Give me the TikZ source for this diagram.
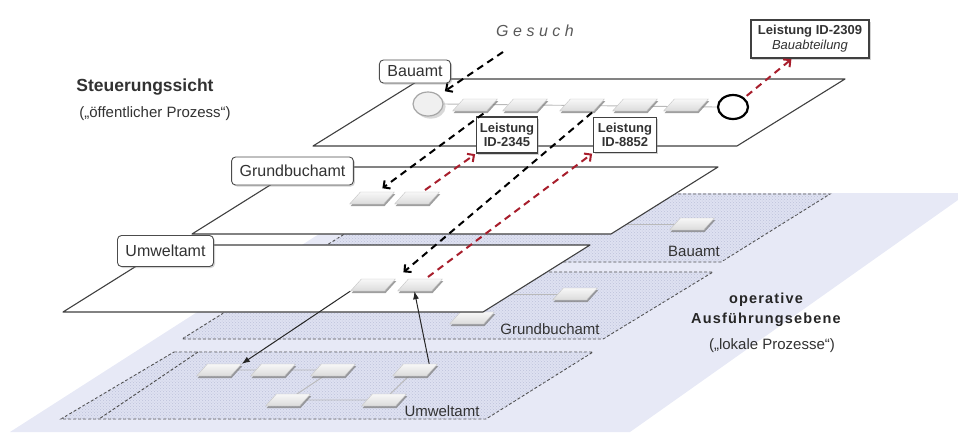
\documentclass[tikz,border=0pt]{standalone}
\usepackage{fontspec}
\setmainfont{Liberation Sans}
\newfontfamily\widefont[LetterSpace=28]{Liberation Sans}
\newfontfamily\semiwidefont[LetterSpace=8]{Liberation Sans}
\usetikzlibrary{shadows,patterns,calc,arrows.meta,shapes.geometric}
\definecolor{rred}{RGB}{168,30,44}
\definecolor{band}{RGB}{231,233,246}
\definecolor{opfill}{RGB}{222,225,241}
\definecolor{opdots}{RGB}{190,194,218}
\definecolor{txt}{RGB}{50,50,50}

\tikzset{
  plane/.style={draw=black!75, line width=1.1pt, fill=white, line join=round},
  opplane/.style={draw=black!70, line width=0.9pt, dash pattern=on 3pt off 2pt, fill=opfill,
    postaction={pattern=crosshatch dots, pattern color=opdots}},
  task/.style={draw=gray!45, thin, top color=gray!6, bottom color=gray!28, minimum width=34pt,
    minimum height=12pt, inner sep=0pt, xslant=0.9, transform shape,
    drop shadow={shadow xshift=1pt, shadow yshift=-2pt, opacity=0.75}},
  lbl/.style={draw=black!70, line width=0.9pt, rounded corners=4pt, fill=white, text=txt,
    font=\fontsize{16}{18}\selectfont, inner xsep=8pt,
    drop shadow={shadow xshift=1.5pt, shadow yshift=-1.5pt, opacity=0.35}},
  res/.style={draw=black!75, line width=1.2pt, fill=white, text=txt, align=center, inner sep=3pt,
    font=\bfseries\fontsize{13}{14}\selectfont,
    drop shadow={shadow xshift=1.5pt, shadow yshift=-1.5pt, opacity=0.35}},
  optext/.style={text=txt, font=\fontsize{15}{17}\selectfont},
  req/.style={draw=black, line width=2pt, dash pattern=on 7pt off 5pt,
    -{Straight Barb[length=5pt,width=10pt]}},
  resp/.style={req, draw=rred},
  flow/.style={draw=black!85, line width=1pt, -{Latex[length=8pt,width=6pt]}},
  seq/.style={draw=gray!55, line width=0.9pt}
}

\begin{document}
\begin{tikzpicture}[x=1pt, y=-1pt, >=stealth]
    \useasboundingbox (0,0) rectangle (958,432);
    \fill[band] (10,432) -- (383,193) -- (958,193) -- (958,200) -- (630,432) -- cycle;

    % operative Ebene
    \draw[opplane] (408,194) -- (830,194) -- (721,262) -- (300,262) -- cycle;
    \draw[opplane] (289,272) -- (713,272) -- (603,339) -- (182,339) -- cycle;
    \draw[opplane] (174,352) -- (593,352) -- (486,419) -- (61,419) -- cycle;
    \draw[black!70, line width=0.9pt, dash pattern=on 3pt off 2pt] (198,352) -- (99,419);

    \coordinate (lbin) at (600,224);
    \coordinate (lgin) at (490,294);
    \coordinate (pu1) at (219,370);
    \coordinate (pu2) at (273,370);
    \coordinate (pu3) at (333,370);
    \coordinate (pu4) at (415,370);
    \coordinate (pu5) at (288,400);
    \coordinate (pu6) at (384,400);
    \draw[seq] (lbin) -- (692,224);
    \draw[seq] (lgin) -- (575,294);
    \draw[seq] (pu1) -- (pu2) -- (pu3) -- (pu5) -- (pu6) -- (pu4);

    \node[task] (lb1) at (692,224) {};
    \node[task] (lg1) at (575,294) {};
    \node[task] (lg2) at (472,318) {};
    \node[task] (lu1) at (pu1) {};
    \node[task] (lu2) at (pu2) {};
    \node[task] (lu3) at (pu3) {};
    \node[task] (lu4) at (pu4) {};
    \node[task] (lu5) at (pu5) {};
    \node[task] (lu6) at (pu6) {};
    \node[optext] (lbau) at (694,251) {Bauamt};
    \node[optext] (lgrund) at (550,329) {Grundbuchamt};
    \node[optext] (lumwelt) at (442,411) {Umweltamt};

    % Steuerungssicht
    \draw[plane] (421,79) -- (845,79) -- (737,146) -- (313,146) -- cycle;
    \draw[plane] (299,167) -- (718,167) -- (611,234) -- (192,234) -- cycle;
    \draw[plane] (170,245) -- (590,245) -- (483,312) -- (63,312) -- cycle;

    \node[ellipse, draw=gray!70, line width=1.2pt, fill=gray!12, minimum width=30pt,
      minimum height=24pt, drop shadow={opacity=0.3}] (start) at (428,104) {};
    \node[ellipse, draw=black, line width=2.2pt, fill=white, minimum width=30pt,
      minimum height=24pt] (stop) at (733,107) {};
    \draw[seq] (start.east) -- (stop.west);
    \node[task] (b1) at (475,105) {};
    \node[task] (b2) at (525,105) {};
    \node[task] (b3) at (582,105) {};
    \node[task] (b4) at (635,105) {};
    \node[task] (b5) at (686,105) {};

    \node[task] (g1) at (372,198) {};
    \node[task] (g2) at (417,198) {};
    \node[task] (u1) at (373,285) {};
    \node[task] (u2) at (420,285) {};

    \node[lbl, minimum height=23pt] (bauamt) at (415,71.5) {Bauamt};
    \node[lbl, minimum height=28pt] (grundbuch) at (292.5,171) {Grundbuchamt};
    \node[lbl, minimum height=31pt] (umwelt) at (165.5,251) {Umweltamt};

    \node[res, minimum width=61pt, minimum height=36pt] (l2345) at (507,135) {Leistung\\ID-2345};
    \node[res, minimum width=63pt, minimum height=35pt] (l8852) at (625,135) {Leistung\\ID-8852};
    \node[res, font=\fontsize{13}{15}\selectfont, inner xsep=7pt, minimum height=38pt] (l2309) at (810,39)
      {\textbf{Leistung ID-2309}\\\textit{Bauabteilung}};

    \node[text=gray!70!black, font=\widefont\itshape\fontsize{16}{18}\selectfont] (gesuch) at (535,31) {Gesuch};
    \coordinate (anfrage) at (503,52);

    % Nachrichten
    \draw[req, shorten >=7pt] (anfrage) -- (start.north east);
    \draw[req, shorten <=4pt, shorten >=6pt] (b1.south east) -- (g1.north);
    \draw[resp, shorten <=3pt, shorten >=1pt] (g2.north) -- (l2345.south west);
    \draw[req, shorten <=2pt, shorten >=10pt] (b3.south east) -- (u1.north east);
    \draw[resp, shorten <=3pt, shorten >=1pt] (u2.north) -- (l8852.south west);
    \draw[resp, shorten <=3pt, shorten >=1pt] (stop.north east) -- ($(l2309.south west)!0.35!(l2309.south east)$);
    \draw[flow] (u1.south west) -- (lu1.north east);
    \draw[flow] ($(lu4.north)!0.5!(lu4.north east)$) -- (u2.south);

    \node[font=\bfseries\fontsize{17.5}{20}\selectfont, text=txt] (steuer) at (145,87) {Steuerungssicht};
    \node[font=\fontsize{15}{17}\selectfont, text=txt] (oeff) at (155,114) {(„öffentlicher Prozess“)};
    \node[font=\semiwidefont\bfseries\fontsize{14.5}{20}\selectfont, text=black!85, align=center] (oper) at (766,310)
      {operative\\Ausführungsebene};
    \node[font=\fontsize{15}{17}\selectfont, text=txt] (lokal) at (772,346) {(„lokale Prozesse“)};
\end{tikzpicture}
\end{document}
